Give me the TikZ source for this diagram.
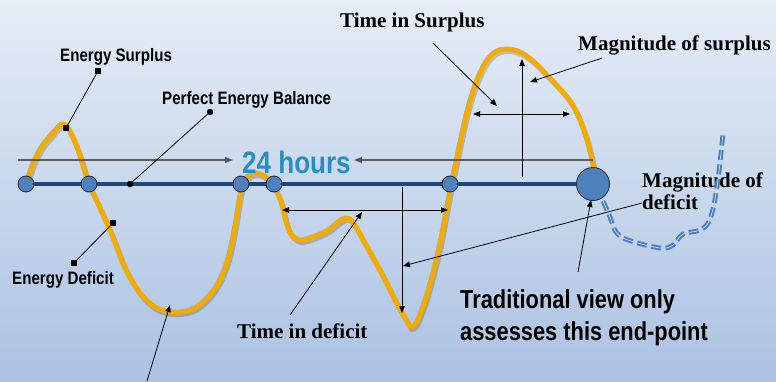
\documentclass[tikz,border=0pt]{standalone}
\usepackage{fontspec}
\setmainfont{Liberation Serif}
\newfontfamily\nsans[FakeStretch=0.84]{Liberation Sans}
\usetikzlibrary{arrows.meta}

\definecolor{bgtop}{HTML}{E6EDF7}
\definecolor{bgbot}{HTML}{ABC2E2}
\definecolor{axisblue}{HTML}{1F497D}
\definecolor{dotblue}{HTML}{4F81BD}
\definecolor{rimblue}{HTML}{1B2F4D}
\definecolor{curveorange}{HTML}{F2AB00}
\definecolor{hourblue}{HTML}{2A8DC0}
\definecolor{dashblue}{HTML}{4A7DBD}
\definecolor{dashcore}{HTML}{D4E2F2}
\definecolor{guide}{HTML}{4A4A4A}

\tikzset{
  tip/.tip={Triangle[length=7pt,width=5.5pt]},
  pin/.style={line width=0.8pt, -tip},
  dbl/.style={line width=0.8pt, tip-tip},
  guideline/.style={guide, line width=1.3pt, -{Triangle[length=8pt,width=6pt]}},
  event/.style={circle, fill=dotblue, draw=rimblue, line width=0.9pt, minimum size=16pt, inner sep=0pt},
  endevent/.style={event, minimum size=33pt},
  sqmark/.style={fill=black, minimum size=5.5pt, inner sep=0pt},
  dotmark/.style={circle, fill=black, minimum size=6.5pt, inner sep=0pt},
  serlabel/.style={inner sep=0pt, anchor=base west, font=\fontsize{21}{24}\selectfont\bfseries},
  sanslabel/.style={inner sep=0pt, anchor=base west, font=\nsans\fontsize{18}{20}\selectfont\bfseries},
  bigsans/.style={inner sep=0pt, anchor=base west, align=left, font=\nsans\fontsize{26}{31.5}\selectfont\bfseries},
  energy/.style={curveorange, line width=5pt, line cap=round, line join=round},
  trail/.style={dashblue, double=dashcore, double distance=0.7pt, line width=2pt,
                dash pattern=on 10pt off 4.5pt, line cap=butt},
}

\begin{document}
\begin{tikzpicture}[x=1pt,y=-1pt]
  % canvas
  \shade[top color=bgtop, bottom color=bgbot] (0,0) rectangle (776,381);
  \useasboundingbox (0,0) rectangle (776,381);

  % the 24 h baseline
  \draw[axisblue, line width=4pt] (26,184) -- (593,184);

  % energy balance over the day
  \def\dayA{(26,184) (33,163) (42,146) (50,136) (57,128) (62,124) (68,128) (78,150)
    (89,184) (100,208) (112,235) (125,268) (140,293) (155,307) (172,312) (190,310)
    (205,300) (218,283) (228,258) (235,225) (241,190) (247,177) (255,173) (263,175)
    (270,180) (276,190) (282,205) (286,222) (291,234) (300,240) (315,236) (328,230)
    (338,222) (345,218) (352,221) (362,238) (372,256) (383,276) (395,300) (404,316) (410,327)}
  \def\dayB{(410,327) (416,323) (425,300) (433,272) (441,238) (450,190) (458,152)
    (466,115) (475,85) (485,63) (495,52) (507,49) (520,52) (533,61) (548,76) (562,91)
    (572,104) (580,120) (587,140) (592,160) (594,172)}
  \begin{scope}[shift={(1.5,2.5)}]
    \draw[energy, black, opacity=0.18] plot[smooth, tension=0.55] coordinates {\dayA}
      -- plot[smooth, tension=0.55] coordinates {\dayB};
  \end{scope}
  \draw[energy] plot[smooth, tension=0.55] coordinates {\dayA}
    -- plot[smooth, tension=0.55] coordinates {\dayB};

  % 24 hours span
  \coordinate (gl) at (18,160);
  \coordinate (glt) at (233,160);
  \coordinate (gr) at (593,160);
  \coordinate (grt) at (354,160);
  \draw[guideline, opacity=0.85] (gl) -- (glt);
  \draw[guideline, opacity=0.85] (gr) -- (grt);
  \node[inner sep=0pt, anchor=base west, text=hourblue,
        font=\nsans\fontsize{31}{34}\selectfont\bfseries] (hours) at (242,173) {24 hours};

  % crossing points
  \node[event] (c1) at (26,184) {};
  \node[event] (c2) at (89,184) {};
  \node[event] (c3) at (241,184) {};
  \node[event] (c4) at (274,184) {};
  \node[event] (c5) at (450,184) {};
  \node[endevent] (cend) at (593,184) {};

  % surplus measures
  \coordinate (sl) at (473,114);
  \coordinate (sr) at (570,114);
  \coordinate (sb) at (522,177);
  \coordinate (st) at (522,59);
  \draw[dbl] (sl) -- (sr);
  \draw[pin] (sb) -- (st);

  % deficit measures
  \coordinate (dl) at (282,210);
  \coordinate (dr) at (448,210);
  \coordinate (dt) at (402,187);
  \coordinate (db) at (402,313);
  \draw[dbl] (dl) -- (dr);
  \draw[pin] (dt) -- (db);

  % labels with leaders
  \node[serlabel] (tsur) at (340,27) {Time in Surplus};
  \coordinate (tsurA) at (433,43);
  \coordinate (tsurB) at (497,106);
  \draw[pin] (tsurA) -- (tsurB);

  \node[serlabel] (msur) at (578,50) {Magnitude of surplus};
  \coordinate (msurA) at (602,58);
  \coordinate (msurB) at (530,82);
  \draw[pin] (msurA) -- (msurB);

  \node[serlabel] (tdef) at (237,338) {Time in deficit};
  \coordinate (tdefA) at (290,315);
  \coordinate (tdefB) at (362,212);
  \draw[pin] (tdefA) -- (tdefB);

  % multi-line nodes sit on the baseline of their last line
  \node[serlabel, align=left, font=\fontsize{21}{22}\selectfont\bfseries]
    (mdef) at (642,209) {Magnitude of\\deficit};
  \coordinate (mdefA) at (642,203);
  \coordinate (mdefB) at (403,266);
  \draw[pin] (mdefA) -- (mdefB);

  \node[bigsans] (trad) at (460,340) {Traditional view only\\assesses this end-point};
  \coordinate (tradA) at (578,272);
  \coordinate (tradB) at (591,200);
  \draw[pin] (tradA) -- (tradB);

  \coordinate (lowA) at (147,381);
  \coordinate (lowB) at (170,305);
  \draw[pin] (lowA) -- (lowB);

  % possible continuation after the end-point, laid over its label
  \draw[trail] plot[smooth, tension=0.6] coordinates {(603,201) (610,217) (616,232)
    (628,240) (660,248) (673,245) (683,234) (700,230) (710,219) (717,187) (723,133)};

  % marker callouts
  \node[sanslabel] (esur) at (60,61) {Energy Surplus};
  \node[sqmark] (esurA) at (98,71) {};
  \node[sqmark] (esurB) at (66,128) {};
  \draw[line width=0.8pt] (esurA) -- (esurB);

  \node[sanslabel] (peb) at (162,104) {Perfect Energy Balance};
  \node[dotmark] (pebA) at (210,112) {};
  \node[dotmark] (pebB) at (130,184) {};
  \draw[line width=0.8pt] (pebA) -- (pebB);

  \node[sanslabel] (edef) at (12,284) {Energy Deficit};
  \node[sqmark] (edefA) at (113,223) {};
  \node[sqmark] (edefB) at (74,263) {};
  \draw[line width=0.8pt] (edefA) -- (edefB);
\end{tikzpicture}
\end{document}
